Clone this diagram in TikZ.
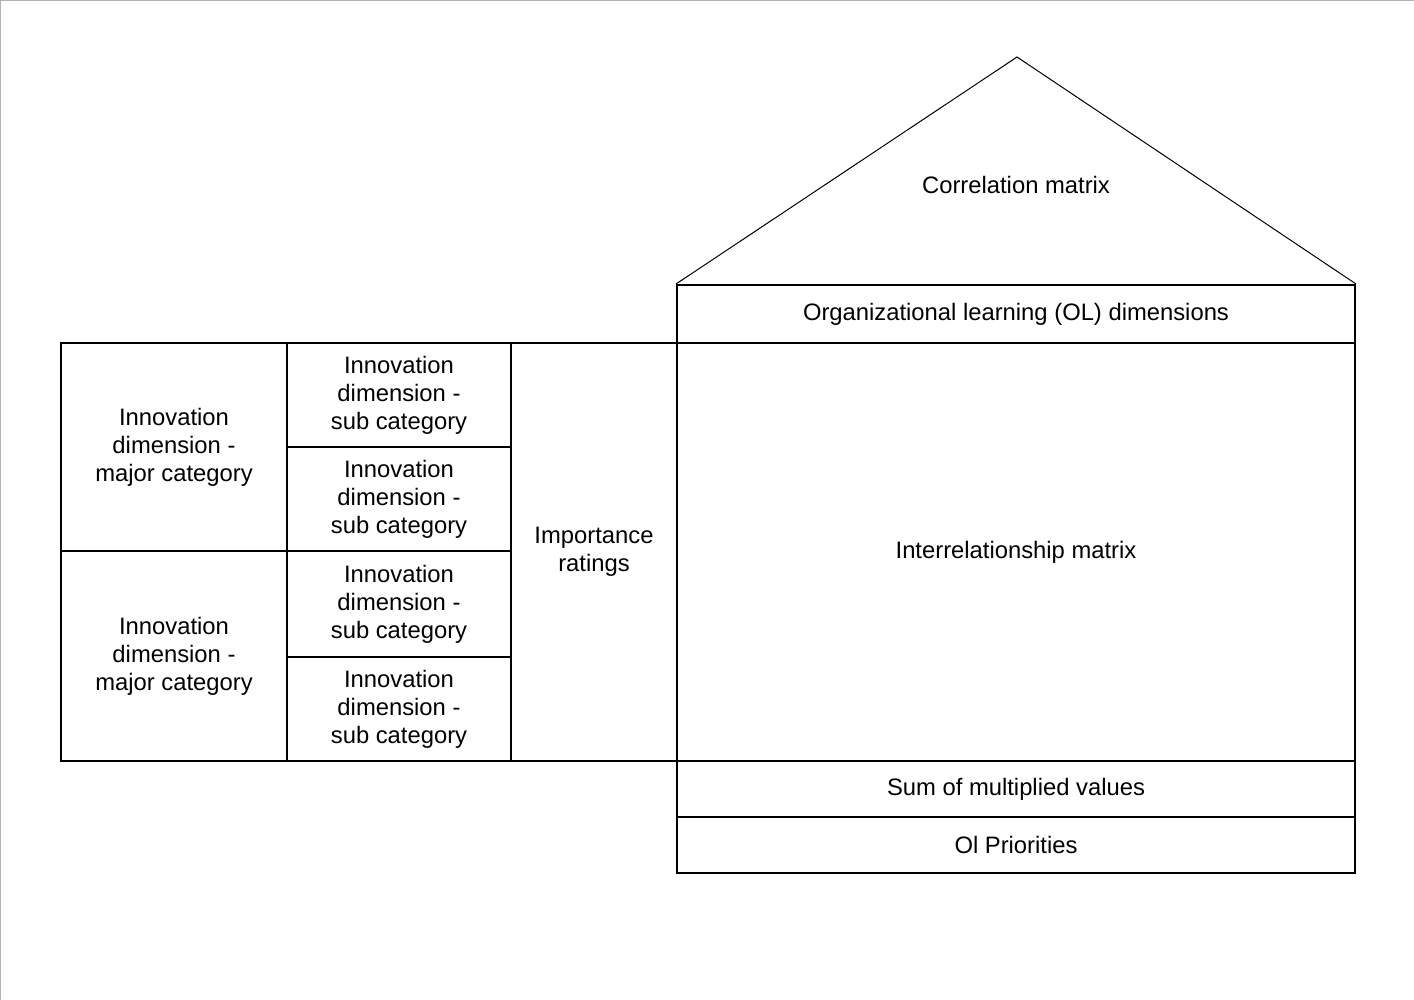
\documentclass[tikz,border=0pt]{standalone}
\usepackage{fontspec}
\setmainfont{Liberation Sans}
\begin{document}
\begin{tikzpicture}[x=0.5pt, y=-0.5pt,
    cell/.style={draw, line width=1pt, inner sep=0pt, align=center,
                 font=\fontsize{11.9}{14}\selectfont},
    roofline/.style={line width=0.5pt}]
    % Page frame
    \useasboundingbox (0,0) rectangle (1414,1000);
    \draw[gray!60, line width=1pt] (0,1000) -- (0,0.5) -- (1414,0.5);

    % Right block: house body
    \node[cell, minimum width=339pt, minimum height=29pt] (ol) at (1016,314) {Organizational learning (OL) dimensions};
    \node[cell, minimum width=339pt, minimum height=209pt] (inter) at (1016,552) {Interrelationship matrix};
    \node[cell, minimum width=339pt, minimum height=28pt] (sum) at (1016,789) {Sum of multiplied values};
    \node[cell, minimum width=339pt, minimum height=28pt] (prio) at (1016,845) {Ol Priorities};

    % Roof
    \coordinate (apex) at (1017,57);
    \draw[roofline] (ol.north west) -- (apex) -- (ol.north east);
    \node[font=\fontsize{11.9}{14}\selectfont] (corr) at (1016,185) {Correlation matrix};

    % Left block
    \node[cell, minimum width=83pt, minimum height=209pt] (imp) at (594,552) {Importance\\ratings};
    \foreach \y/\h [count=\i] in {395/52, 499/52, 604/53, 709/52}
        \node[cell, minimum width=112pt, minimum height=\h pt] (sub\i) at (399,\y) {Innovation\\dimension -\\sub category};
    \foreach \y/\h [count=\i] in {447/104, 656/105}
        \node[cell, minimum width=113pt, minimum height=\h pt] (maj\i) at (174,\y) {Innovation\\dimension -\\major category};

\end{tikzpicture}
\end{document}
